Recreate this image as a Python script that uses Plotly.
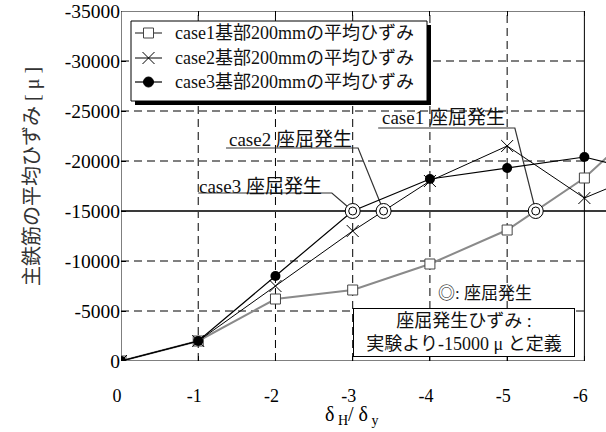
import plotly.graph_objects as go

# deformation ratio steps (delta_H / delta_y)
steps = [0, -1, -2, -3, -4, -5, -6, -7]
# average strain of main rebar within 200 mm of the base [micro]
case1 = [0, -2000, -6200, -7100, -9700, -13100, -18300, -25400]
case2 = [0, -2000, -7500, -13000, -18000, -21500, -16300, -19500]
case3 = [0, -2000, -8500, -15000, -18200, -19300, -20400, -18500]

# buckling onset points (strain defined as -15000 micro)
buckle_x = [-5.37, -3.40, -3.00]
buckle_y = [-15000, -15000, -15000]
buckle_names = ["case1 座屈発生", "case2 座屈発生", "case3 座屈発生"]
buckle_strain = -15000

names = ["case1基部200mmの平均ひずみ", "case2基部200mmの平均ひずみ", "case3基部200mmの平均ひずみ"]

x_ticks = [0, -1, -2, -3, -4, -5, -6]
y_ticks = [0, -5000, -10000, -15000, -20000, -25000, -30000, -35000]

X_MAX = -6          # right edge of the frame
X_VIEW = -6.28      # lines run past the frame to the page edge
Y_MAX = -35000

SERIF = '"Liberation Serif", "Times New Roman", "Noto Sans CJK JP", serif'

# plot area in page pixels
L, R, T, B = 121, 606, 11, 361


def px(p):
    return (p - L) / (R - L)


def py(p):
    return (B - p) / (B - T)


fig = go.Figure()

fig.add_trace(go.Scatter(
    x=steps, y=case1, name=names[0], mode="lines+markers",
    line=dict(color="#8a8a8a", width=2),
    marker=dict(symbol="square", size=10, color="white", line=dict(color="#444", width=1)),
))
fig.add_trace(go.Scatter(
    x=steps, y=case2, name=names[1], mode="lines+markers",
    line=dict(color="black", width=1),
    marker=dict(symbol="x-thin-open", size=12, color="black", line=dict(color="black", width=1)),
))
fig.add_trace(go.Scatter(
    x=steps, y=case3, name=names[2], mode="lines+markers",
    line=dict(color="black", width=1.2),
    marker=dict(symbol="circle", size=10, color="black"),
))

# double circle (◎) marking buckling onset
fig.add_trace(go.Scatter(
    x=buckle_x, y=buckle_y, mode="markers", hoverinfo="skip",
    marker=dict(symbol="circle", size=15, color="white", line=dict(color="black", width=1)),
))
fig.add_trace(go.Scatter(
    x=buckle_x, y=buckle_y, mode="markers", hoverinfo="skip",
    marker=dict(symbol="circle-open", size=8, color="black", line=dict(color="black", width=1)),
))

shapes = []
dash = "8px,5px"
for yv in y_ticks:
    if yv in (0, Y_MAX, buckle_strain):
        continue
    shapes.append(dict(type="line", xref="x", yref="y", x0=0, x1=X_MAX, y0=yv, y1=yv,
                       line=dict(color="black", width=1, dash=dash), layer="below"))
for xv in x_ticks:
    if xv in (0, X_MAX):
        continue
    shapes.append(dict(type="line", xref="x", yref="y", x0=xv, x1=xv, y0=0, y1=Y_MAX,
                       line=dict(color="black", width=1, dash=dash), layer="below"))
# buckling strain level
shapes.append(dict(type="line", xref="x", yref="y", x0=0, x1=X_VIEW, y0=buckle_strain, y1=buckle_strain,
                   line=dict(color="#3a3a3a", width=2), layer="below"))
# frame
shapes.append(dict(type="rect", xref="x", yref="y", x0=0, x1=X_MAX, y0=0, y1=Y_MAX,
                   line=dict(color="black", width=1), layer="below"))

# callout labels: text centre, underline span, underline level
callouts = [
    dict(tx=-4.18, ty=-24400, ux0=-3.33, ux1=-5.10, uy=-23300),
    dict(tx=-2.19, ty=-22200, ux0=-1.36, ux1=-3.07, uy=-21300),
    dict(tx=-1.81, ty=-17500, ux0=-1.00, ux1=-2.73, uy=-16800),
]
annotations = []
for c, bx, by, label in zip(callouts, buckle_x, buckle_y, buckle_names):
    shapes.append(dict(type="path", xref="x", yref="y",
                       path=f"M {c['ux0']},{c['uy']} L {c['ux1']},{c['uy']} L {bx},{by}",
                       line=dict(color="#333", width=1.2), layer="below"))
    annotations.append(dict(x=c["tx"], y=c["ty"], xref="x", yref="y", text=label, showarrow=False,
                            xanchor="center", yanchor="middle",
                            font=dict(family=SERIF, size=19, color="#111")))

# legend box with drop shadow, drawn in page pixels
LEG_L, LEG_R, LEG_T, LEG_B = 131, 427, 21, 101
SHADOW = 4
rows = [33, 58, 82]
sample_x0, sample_x1 = 135, 162
mx = (sample_x0 + sample_x1) / 2
shapes.append(dict(type="rect", xref="paper", yref="paper",
                   x0=px(LEG_L + SHADOW), x1=px(LEG_R + SHADOW),
                   y0=py(LEG_B + SHADOW), y1=py(LEG_T + SHADOW),
                   fillcolor="black", line=dict(width=0), layer="above"))
shapes.append(dict(type="rect", xref="paper", yref="paper",
                   x0=px(LEG_L), x1=px(LEG_R), y0=py(LEG_B), y1=py(LEG_T),
                   fillcolor="white", line=dict(color="black", width=1), layer="above"))
sample_styles = [
    dict(color="#8a8a8a", width=2),
    dict(color="black", width=1),
    dict(color="black", width=1.2),
]
for ry, st in zip(rows, sample_styles):
    shapes.append(dict(type="line", xref="paper", yref="paper",
                       x0=px(sample_x0), x1=px(sample_x1), y0=py(ry), y1=py(ry),
                       line=st, layer="above"))
h = 5
# square sample
shapes.append(dict(type="rect", xref="paper", yref="paper",
                   x0=px(mx - h), x1=px(mx + h), y0=py(rows[0] + h), y1=py(rows[0] - h),
                   fillcolor="white", line=dict(color="#444", width=1), layer="above"))
# cross sample
for sgn in (1, -1):
    shapes.append(dict(type="line", xref="paper", yref="paper",
                       x0=px(mx - 6), x1=px(mx + 6), y0=py(rows[1] - 6 * sgn), y1=py(rows[1] + 6 * sgn),
                       line=dict(color="black", width=1), layer="above"))
# filled circle sample
shapes.append(dict(type="circle", xref="paper", yref="paper",
                   x0=px(mx - h), x1=px(mx + h), y0=py(rows[2] + h), y1=py(rows[2] - h),
                   fillcolor="black", line=dict(color="black", width=1), layer="above"))
for ry, nm in zip(rows, names):
    annotations.append(dict(x=px(173), y=py(ry), xref="paper", yref="paper", text=nm,
                            showarrow=False, xanchor="left", yanchor="middle",
                            font=dict(family=SERIF, size=18, color="#111")))

annotations += [
    dict(x=-4.71, y=-6800, xref="x", yref="y", text="◎: 座屈発生", showarrow=False,
         xanchor="center", yanchor="middle", font=dict(family=SERIF, size=17, color="#111")),
    dict(x=-4.44, y=-2850, xref="x", yref="y",
         text="座屈発生ひずみ :<br>実験より-15000 μ と定義", showarrow=False,
         xanchor="center", yanchor="middle", align="center", width=216, borderpad=2,
         bgcolor="white", bordercolor="black", borderwidth=1,
         font=dict(family=SERIF, size=18, color="#111")),
    dict(x=px(32), y=py(177), xref="paper", yref="paper",
         text="主鉄筋の平均ひずみ [ μ ]", textangle=-90, showarrow=False,
         xanchor="center", yanchor="middle", font=dict(family=SERIF, size=20, color="#333")),
    dict(x=px(352), y=py(415), xref="paper", yref="paper",
         text="δ<sub> H</sub>/ δ<sub> y</sub>", showarrow=False,
         xanchor="center", yanchor="middle", font=dict(family=SERIF, size=20, color="black")),
]

fig.update_layout(
    width=606, height=432,
    margin=dict(l=L, r=606 - R, t=T, b=432 - B),
    paper_bgcolor="white", plot_bgcolor="white",
    shapes=shapes, annotations=annotations,
    showlegend=False,
    xaxis=dict(range=[0, X_VIEW], tickvals=x_ticks, ticktext=[str(v) for v in x_ticks],
               showgrid=False, zeroline=False, showline=False,
               ticks="inside", ticklen=5, tickcolor="black", mirror="ticks",
               ticklabelstandoff=22, ticklabelshift=4,
               tickfont=dict(family=SERIF, size=18, color="black")),
    yaxis=dict(range=[0, Y_MAX], tickvals=y_ticks, ticktext=[str(v) for v in y_ticks],
               showgrid=False, zeroline=False, showline=False,
               ticks="inside", ticklen=5, tickcolor="black",
               tickfont=dict(family=SERIF, size=19.5, color="black")),
)

fig.write_html("out.html")
